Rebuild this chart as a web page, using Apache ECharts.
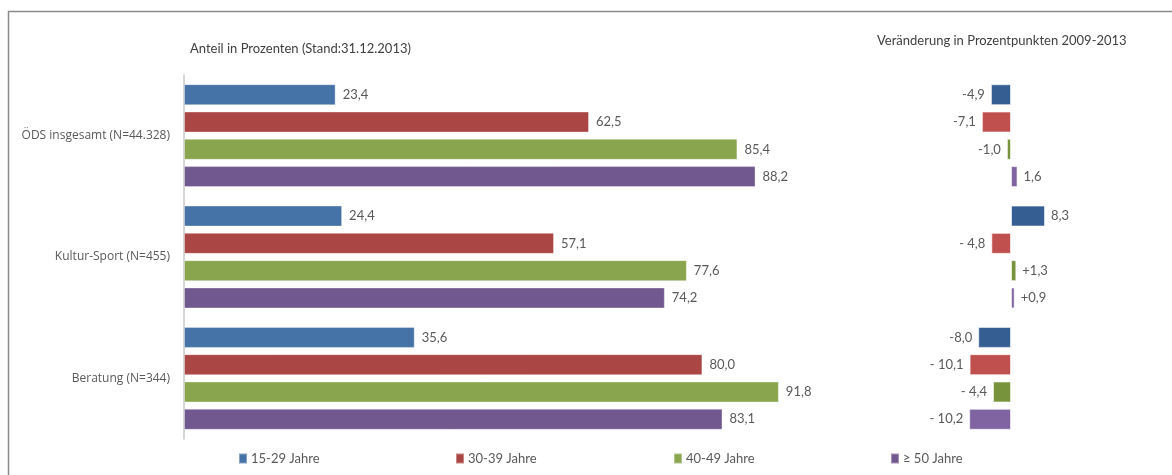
<!DOCTYPE html>
<html>
<head>
<meta charset="utf-8">
<script src="https://cdn.jsdelivr.net/npm/echarts@6/dist/echarts.min.js"></script>
<style>
  html, body { margin: 0; padding: 0; background: #ffffff; overflow: hidden; }
  #chart { width: 1172px; height: 475px; }
</style>
</head>
<body>
<div id="chart"></div>
<script>
// Categories (top to bottom) and age groups
const categories = ['ÖDS insgesamt (N=44.328)', 'Kultur-Sport (N=455)', 'Beratung (N=344)'];
const ageGroups = ['15-29 Jahre', '30-39 Jahre', '40-49 Jahre', '≥ 50 Jahre'];

// Share in percent (as of 31.12.2013), one array per age group
const share1529 = [23.4, 24.4, 35.6];
const share3039 = [62.5, 57.1, 80.0];
const share4049 = [85.4, 77.6, 91.8];
const share50 = [88.2, 74.2, 83.1];

// Change in percentage points 2009-2013, with the printed labels
const change1529 = [-4.9, 8.3, -8.0];
const change3039 = [-7.1, -4.8, -10.1];
const change4049 = [-1.0, 1.3, -4.4];
const change50 = [1.6, 0.9, -10.2];
const changeText1529 = ['-4,9', '8,3', '-8,0'];
const changeText3039 = ['-7,1', '- 4,8', '- 10,1'];
const changeText4049 = ['-1,0', '+1,3', '- 4,4'];
const changeText50 = ['1,6', '+0,9', '- 10,2'];

const shares = [share1529, share3039, share4049, share50];
const changes = [change1529, change3039, change4049, change50];
const changeTexts = [changeText1529, changeText3039, changeText4049, changeText50];

const shareColors = ['#4572a7', '#aa4643', '#89a54e', '#71588f'];
const changeColors = ['#355f92', '#c0504d', '#77933c', '#8064a2'];

const textColor = '#595959';
const fontMain = 'Lato, "Open Sans", sans-serif';
const fontAxis = '"Open Sans", sans-serif';

const chart = echarts.init(document.getElementById('chart'), null, { renderer: 'canvas' });

const grids = [
  { left: 184, width: 648, top: 75, height: 364 },
  { left: 929, width: 164, top: 75, height: 364 }
];

const series = [];
shares.forEach((vals, i) => {
  series.push({
    name: ageGroups[i],
    type: 'bar',
    xAxisIndex: 0,
    yAxisIndex: 0,
    barWidth: 21,
    barGap: '30%',
    data: vals,
    itemStyle: { color: shareColors[i], borderColor: 'rgba(255,255,255,0.35)', borderWidth: 1 },
    label: {
      show: true,
      position: 'right',
      distance: 7,
      color: textColor,
      fontFamily: fontMain,
      fontSize: 13,
      formatter: p => p.value.toFixed(1).replace('.', ',')
    }
  });
});
changes.forEach((vals, i) => {
  series.push({
    name: ageGroups[i],
    type: 'bar',
    xAxisIndex: 1,
    yAxisIndex: 1,
    barWidth: 21,
    barGap: '30%',
    data: vals.map((v, k) => ({
      value: v,
      label: { position: v < 0 ? 'left' : 'right', formatter: changeTexts[i][k] }
    })),
    itemStyle: { color: changeColors[i], borderColor: 'rgba(255,255,255,0.6)', borderWidth: 1 },
    label: {
      show: true,
      distance: 6,
      color: textColor,
      fontFamily: fontMain,
      fontSize: 13
    }
  });
});

const legendLefts = [238, 455, 673, 890];

chart.setOption({
  animation: false,
  backgroundColor: '#ffffff',
  // page frame: left and top edges only
  graphic: [{
    type: 'polyline',
    silent: true,
    shape: { points: [[8.5, 475], [8.5, 11.5], [1172, 11.5]] },
    style: { stroke: '#8a8a8a', lineWidth: 1.5, fill: null }
  }],
  title: [
    {
      text: 'Anteil in Prozenten (Stand:31.12.2013)',
      left: 185, top: 37,
      textStyle: { color: '#404040', fontFamily: fontMain, fontSize: 13, fontWeight: 'normal' }
    },
    {
      text: 'Veränderung in Prozentpunkten 2009-2013',
      left: 872, top: 29,
      textStyle: { color: '#404040', fontFamily: fontMain, fontSize: 13, fontWeight: 'normal' }
    }
  ],
  legend: ageGroups.map((name, i) => ({
    data: [name],
    left: legendLefts[i],
    top: 452,
    padding: 0,
    icon: 'rect',
    itemWidth: 8,
    itemHeight: 10,
    itemGap: 0,
    textStyle: { color: textColor, fontFamily: fontMain, fontSize: 13, padding: [0, 0, 0, -1] },
    selectedMode: false
  })),
  grid: grids,
  xAxis: [
    { gridIndex: 0, type: 'value', min: 0, max: 100, show: false },
    { gridIndex: 1, type: 'value', min: -20, max: 20, show: false }
  ],
  yAxis: [
    {
      gridIndex: 0, type: 'category', data: categories, inverse: true,
      axisLine: { show: true, lineStyle: { color: '#c8c8c8', width: 1.5 } },
      axisTick: { show: false },
      axisLabel: { color: textColor, fontFamily: fontAxis, fontSize: 12, margin: 14 },
      splitLine: { show: false }
    },
    {
      gridIndex: 1, type: 'category', data: categories, inverse: true,
      axisLine: { show: false }, axisTick: { show: false }, axisLabel: { show: false },
      splitLine: { show: false }
    }
  ],
  series: series
});
</script>
</body>
</html>
